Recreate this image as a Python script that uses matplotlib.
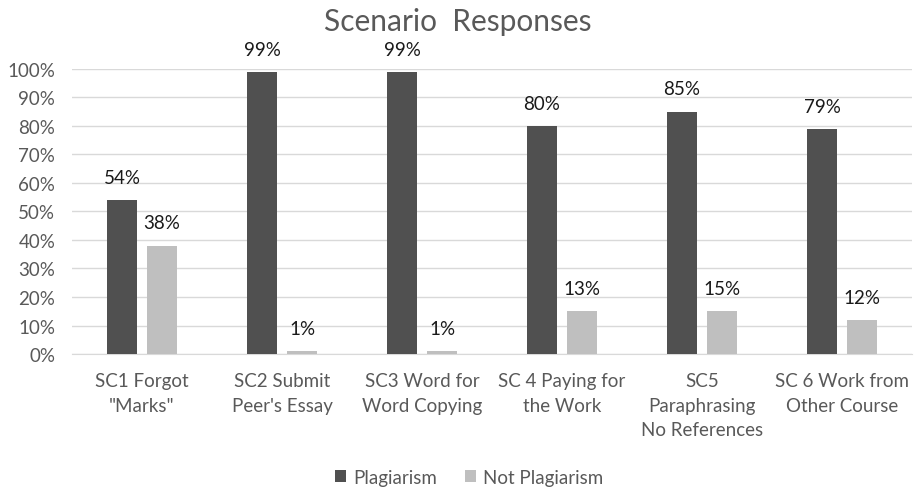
import matplotlib
matplotlib.use("Agg")
import matplotlib.pyplot as plt
import numpy as np

plt.rcParams['font.family'] = ['Lato', 'DejaVu Sans']

categories = ['SC1 Forgot\n"Marks"', "SC2 Submit\nPeer's Essay", "SC3 Word for\nWord Copying",
              "SC 4 Paying for\nthe Work", "SC5\nParaphrasing\nNo References", "SC 6 Work from\nOther Course"]
plagiarism = [54, 99, 99, 80, 85, 79]
not_plagiarism = [38, 1, 1, 15, 15, 12]
plagiarism_labels = ["54%", "99%", "99%", "80%", "85%", "79%"]
not_plagiarism_labels = ["38%", "1%", "1%", "13%", "15%", "12%"]
yticks = [0, 10, 20, 30, 40, 50, 60, 70, 80, 90, 100]

fig = plt.figure(figsize=(9.16, 4.89), dpi=100)
ax = fig.add_axes([0.0786, 0.274, 0.917, 0.583])

x = np.arange(len(categories))
w = 0.22
off = 0.143
dark = '#505050'
light = '#bfbfbf'
b1 = ax.bar(x - off, plagiarism, w, color=dark, label='Plagiarism', zorder=3)
b2 = ax.bar(x + off, not_plagiarism, w, color=light, label='Not Plagiarism', zorder=3)

for bars, vals, labs in ((b1, plagiarism, plagiarism_labels), (b2, not_plagiarism, not_plagiarism_labels)):
    for r, v, lab in zip(bars, vals, labs):
        ax.text(r.get_x() + r.get_width() / 2, v + 5, lab, ha='center', va='bottom',
                fontsize=13.5, color='#1a1a1a')

ax.set_xlim(-0.5, len(categories) - 0.5)
ax.set_ylim(0, 100)
ax.set_yticks(yticks)
ax.set_yticklabels([f"{t}%" for t in yticks], fontsize=13.5, color='#595959')
ax.set_xticks(x)
ax.set_xticklabels(categories, fontsize=13.5, color='#595959', linespacing=1.55, va='top')
ax.tick_params(axis='both', length=0)
ax.tick_params(axis='x', pad=13)
ax.tick_params(axis='y', pad=12)
ax.grid(axis='y', color='#d9d9d9', linewidth=1, zorder=0)
for s in ['top', 'right', 'left']:
    ax.spines[s].set_visible(False)
ax.spines['bottom'].set_color('#d9d9d9')

fig.text(0.5, 1 - 22 / 489, 'Scenario  Responses', fontsize=21.5, color='#595959',
         ha='center', va='center')
fig.legend(handles=[b1, b2], loc='lower center', bbox_to_anchor=(0.512, -0.017), ncol=2,
           frameon=False, fontsize=13.5, handlelength=0.6, handleheight=0.6,
           handletextpad=0.35, columnspacing=1.5, labelcolor='#595959', borderpad=0.05)

fig.savefig('out.png', dpi=100)
